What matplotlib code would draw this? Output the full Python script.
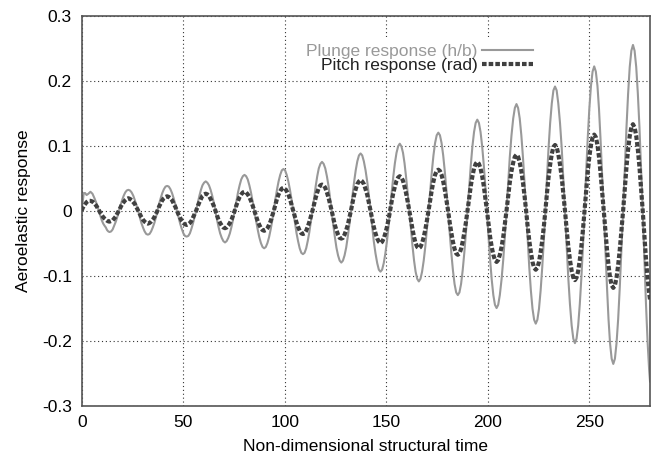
import matplotlib
matplotlib.use('Agg')
import matplotlib.pyplot as plt

plt.rcParams['font.family'] = ['Liberation Sans', 'DejaVu Sans']
plt.rcParams['axes.unicode_minus'] = False

# sample times (non-dimensional structural time)
time = [
    0.0, 0.5, 1.0, 1.7, 2.4, 3.3, 4.3, 5.3, 6.3, 7.3, 8.2, 9.1, 9.9, 10.6, 11.2, 11.9, 12.5, 13.1, 13.7,
    14.5, 15.25, 16.0, 16.8, 17.6, 18.35, 19.1, 19.9, 20.7, 21.45, 22.2, 23.0,
    23.8, 24.6, 25.4, 26.2, 27.0, 27.8, 28.6, 29.4, 30.2, 31.0, 31.8, 32.6,
    33.4, 34.2, 35.0, 35.8, 36.6, 37.35, 38.1, 38.9, 39.7, 40.5, 41.3, 42.1,
    42.9, 43.7, 44.5, 45.3, 46.1, 46.9, 47.7, 48.5, 49.3, 50.1, 50.9, 51.7,
    52.5, 53.3, 54.05, 54.8, 55.6, 56.4, 57.2, 58.0, 58.75, 59.5, 60.3, 61.1,
    61.9, 62.7, 63.5, 64.3, 65.1, 65.85, 66.6, 67.4, 68.2, 69.0, 69.8, 70.6,
    71.4, 72.2, 73.0, 73.8, 74.6, 75.4, 76.2, 77.0, 77.8, 78.6, 79.4, 80.2,
    81.0, 81.8, 82.6, 83.4, 84.2, 85.05, 85.9, 86.7, 87.5, 88.3, 89.1, 89.9,
    90.7, 91.5, 92.3, 93.1, 93.9, 94.65, 95.4, 96.2, 97.0, 97.8, 98.6, 99.4,
    100.2, 101.0, 101.8, 102.6, 103.4, 104.2, 105.0, 105.8, 106.6, 107.4, 108.2, 109.0,
    109.8, 110.6, 111.35, 112.1, 112.9, 113.7, 114.5, 115.3, 116.05, 116.8, 117.6, 118.4,
    119.2, 120.0, 120.8, 121.6, 122.4, 123.15, 123.9, 124.7, 125.5, 126.3, 127.1, 127.9,
    128.7, 129.5, 130.3, 131.1, 131.9, 132.65, 133.4, 134.2, 135.0, 135.8, 136.6, 137.4,
    138.2, 139.0, 139.85, 140.7, 141.5, 142.3, 143.1, 143.9, 144.75, 145.6, 146.4, 147.2,
    148.0, 148.8, 149.6, 150.4, 151.2, 151.95, 152.7, 153.5, 154.3, 155.1, 155.9, 156.7,
    157.5, 158.3, 159.05, 159.8, 160.6, 161.4, 162.2, 163.0, 163.75, 164.5, 165.3, 166.1,
    166.9, 167.7, 168.5, 169.3, 170.1, 170.9, 171.7, 172.5, 173.3, 174.1, 174.9, 175.7,
    176.5, 177.3, 178.1, 178.9, 179.7, 180.5, 181.3, 182.1, 182.9, 183.7, 184.5, 185.3,
    186.1, 186.9, 187.7, 188.5, 189.3, 190.1, 190.9, 191.7, 192.5, 193.3, 194.1, 194.9,
    195.7, 196.5, 197.3, 198.1, 198.9, 199.65, 200.4, 201.2, 202.0, 202.8, 203.6, 204.4,
    205.2, 206.0, 206.85, 207.7, 208.5, 209.3, 210.1, 210.9, 211.75, 212.6, 213.4, 214.2,
    215.0, 215.8, 216.6, 217.4, 218.2, 218.95, 219.7, 220.5, 221.3, 222.1, 222.9, 223.7,
    224.5, 225.3, 226.1, 226.9, 227.7, 228.45, 229.2, 230.0, 230.8, 231.6, 232.4, 233.2,
    234.0, 234.8, 235.65, 236.5, 237.3, 238.1, 238.9, 239.7, 240.55, 241.4, 242.2, 243.0,
    243.8, 244.6, 245.4, 246.2, 247.0, 247.75, 248.5, 249.3, 250.1, 250.9, 251.7, 252.5,
    253.3, 254.1, 254.85, 255.6, 256.4, 257.2, 258.0, 258.8, 259.55, 260.3, 261.1, 261.9,
    262.7, 263.5, 264.3, 265.1, 265.9, 266.75, 267.6, 268.4, 269.2, 270.0, 270.8, 271.6,
    272.4, 273.2, 274.0, 274.8, 275.6, 276.4, 277.2, 278.0, 278.8, 279.6, 280.0,
]

# plunge response (h/b)
plunge = [
    0.000, 0.014, 0.027, 0.027, 0.024, 0.026, 0.029, 0.026, 0.019, 0.011, 0.002, -0.007, -0.015, -0.020, -0.023, -0.026, -0.030, -0.032, -0.033,
    -0.032, -0.029, -0.023, -0.017, -0.009, 0.000, 0.008, 0.016, 0.023, 0.028, 0.031, 0.032,
    0.031, 0.028, 0.023, 0.016, 0.008, 0.000, -0.010, -0.019, -0.026, -0.032, -0.036, -0.037,
    -0.036, -0.032, -0.026, -0.019, -0.010, 0.000, 0.010, 0.019, 0.027, 0.033, 0.037, 0.038,
    0.037, 0.033, 0.027, 0.019, 0.010, 0.000, -0.010, -0.020, -0.028, -0.035, -0.039, -0.040,
    -0.039, -0.035, -0.028, -0.020, -0.010, 0.000, 0.012, 0.023, 0.032, 0.039, 0.043, 0.045,
    0.043, 0.039, 0.032, 0.023, 0.012, 0.000, -0.013, -0.025, -0.035, -0.042, -0.047, -0.049,
    -0.047, -0.042, -0.035, -0.025, -0.013, 0.000, 0.014, 0.028, 0.039, 0.048, 0.053, 0.055,
    0.053, 0.048, 0.039, 0.028, 0.014, 0.000, -0.015, -0.029, -0.041, -0.050, -0.056, -0.058,
    -0.056, -0.050, -0.041, -0.029, -0.015, 0.000, 0.017, 0.032, 0.045, 0.055, 0.062, 0.064,
    0.062, 0.055, 0.045, 0.032, 0.017, 0.000, -0.017, -0.034, -0.047, -0.058, -0.065, -0.067,
    -0.065, -0.058, -0.047, -0.034, -0.017, 0.000, 0.019, 0.038, 0.053, 0.065, 0.072, 0.075,
    0.072, 0.065, 0.053, 0.038, 0.019, 0.000, -0.021, -0.040, -0.057, -0.069, -0.077, -0.080,
    -0.077, -0.069, -0.057, -0.040, -0.021, 0.000, 0.023, 0.044, 0.062, 0.076, 0.085, 0.088,
    0.085, 0.076, 0.062, 0.044, 0.023, 0.000, -0.024, -0.047, -0.066, -0.081, -0.091, -0.094,
    -0.091, -0.081, -0.066, -0.047, -0.024, 0.000, 0.027, 0.052, 0.073, 0.089, 0.099, 0.103,
    0.099, 0.089, 0.073, 0.052, 0.027, 0.000, -0.028, -0.055, -0.077, -0.094, -0.105, -0.109,
    -0.105, -0.094, -0.077, -0.055, -0.028, 0.000, 0.031, 0.060, 0.085, 0.104, 0.116, 0.120,
    0.116, 0.104, 0.085, 0.060, 0.031, 0.000, -0.034, -0.065, -0.092, -0.113, -0.126, -0.130,
    -0.126, -0.113, -0.092, -0.065, -0.034, 0.000, 0.036, 0.070, 0.099, 0.121, 0.135, 0.140,
    0.135, 0.121, 0.099, 0.070, 0.036, 0.000, -0.039, -0.075, -0.106, -0.130, -0.145, -0.150,
    -0.145, -0.130, -0.106, -0.075, -0.039, 0.000, 0.042, 0.082, 0.116, 0.142, 0.158, 0.164,
    0.158, 0.142, 0.116, 0.082, 0.042, 0.000, -0.045, -0.087, -0.123, -0.151, -0.168, -0.174,
    -0.168, -0.151, -0.123, -0.087, -0.045, 0.000, 0.049, 0.096, 0.135, 0.165, 0.185, 0.191,
    0.185, 0.165, 0.135, 0.096, 0.049, 0.000, -0.053, -0.102, -0.144, -0.177, -0.197, -0.204,
    -0.197, -0.177, -0.144, -0.102, -0.053, 0.000, 0.057, 0.111, 0.157, 0.192, 0.214, 0.222,
    0.214, 0.192, 0.157, 0.111, 0.057, 0.000, -0.061, -0.118, -0.167, -0.204, -0.228, -0.236,
    -0.228, -0.204, -0.167, -0.118, -0.061, 0.000, 0.066, 0.128, 0.180, 0.221, 0.246, 0.255,
    0.246, 0.221, 0.180, 0.128, 0.066, 0.000, -0.074, -0.143, -0.202, -0.247, -0.263,
]

# pitch response (rad)
pitch = [
    0.000, 0.004, 0.007, 0.010, 0.013, 0.015, 0.015, 0.014, 0.011, 0.007, 0.002, -0.003, -0.007, -0.010, -0.012, -0.014, -0.0155, -0.0165, -0.017,
    -0.016, -0.015, -0.012, -0.009, -0.004, 0.000, 0.005, 0.010, 0.013, 0.016, 0.018, 0.019,
    0.018, 0.016, 0.013, 0.010, 0.005, 0.000, -0.005, -0.010, -0.014, -0.017, -0.019, -0.020,
    -0.019, -0.017, -0.014, -0.010, -0.005, 0.000, 0.006, 0.011, 0.016, 0.019, 0.021, 0.022,
    0.021, 0.019, 0.016, 0.011, 0.006, 0.000, -0.006, -0.011, -0.016, -0.019, -0.021, -0.022,
    -0.021, -0.019, -0.016, -0.011, -0.006, 0.000, 0.007, 0.013, 0.018, 0.023, 0.025, 0.026,
    0.025, 0.023, 0.018, 0.013, 0.007, 0.000, -0.007, -0.014, -0.019, -0.023, -0.026, -0.027,
    -0.026, -0.023, -0.019, -0.014, -0.007, 0.000, 0.008, 0.015, 0.021, 0.025, 0.028, 0.029,
    0.028, 0.025, 0.021, 0.015, 0.008, 0.000, -0.008, -0.016, -0.022, -0.027, -0.030, -0.031,
    -0.030, -0.027, -0.022, -0.016, -0.008, 0.000, 0.009, 0.018, 0.025, 0.030, 0.034, 0.035,
    0.034, 0.030, 0.025, 0.018, 0.009, 0.000, -0.009, -0.018, -0.025, -0.031, -0.035, -0.036,
    -0.035, -0.031, -0.025, -0.018, -0.009, 0.000, 0.010, 0.020, 0.028, 0.035, 0.039, 0.040,
    0.039, 0.035, 0.028, 0.020, 0.010, 0.000, -0.011, -0.022, -0.030, -0.037, -0.042, -0.043,
    -0.042, -0.037, -0.030, -0.022, -0.011, 0.000, 0.012, 0.024, 0.033, 0.041, 0.045, 0.047,
    0.045, 0.041, 0.033, 0.024, 0.012, 0.000, -0.013, -0.025, -0.035, -0.043, -0.048, -0.050,
    -0.048, -0.043, -0.035, -0.025, -0.013, 0.000, 0.014, 0.027, 0.037, 0.046, 0.051, 0.053,
    0.051, 0.046, 0.037, 0.027, 0.014, 0.000, -0.015, -0.029, -0.041, -0.050, -0.056, -0.058,
    -0.056, -0.050, -0.041, -0.029, -0.015, 0.000, 0.016, 0.032, 0.045, 0.055, 0.061, 0.063,
    0.061, 0.055, 0.045, 0.032, 0.016, 0.000, -0.018, -0.034, -0.048, -0.059, -0.066, -0.068,
    -0.066, -0.059, -0.048, -0.034, -0.018, 0.000, 0.019, 0.038, 0.053, 0.065, 0.072, 0.075,
    0.072, 0.065, 0.053, 0.038, 0.019, 0.000, -0.020, -0.040, -0.056, -0.068, -0.076, -0.079,
    -0.076, -0.068, -0.056, -0.040, -0.020, 0.000, 0.022, 0.043, 0.061, 0.074, 0.083, 0.086,
    0.083, 0.074, 0.061, 0.043, 0.022, 0.000, -0.024, -0.046, -0.064, -0.079, -0.088, -0.091,
    -0.088, -0.079, -0.064, -0.046, -0.024, 0.000, 0.026, 0.051, 0.071, 0.087, 0.098, 0.101,
    0.098, 0.087, 0.071, 0.051, 0.026, 0.000, -0.028, -0.054, -0.076, -0.093, -0.103, -0.107,
    -0.103, -0.093, -0.076, -0.054, -0.028, 0.000, 0.030, 0.059, 0.083, 0.101, 0.113, 0.117,
    0.113, 0.101, 0.083, 0.059, 0.030, 0.000, -0.031, -0.060, -0.084, -0.103, -0.115, -0.119,
    -0.115, -0.103, -0.084, -0.060, -0.031, 0.000, 0.034, 0.067, 0.094, 0.115, 0.128, 0.133,
    0.128, 0.115, 0.094, 0.067, 0.034, 0.000, -0.038, -0.074, -0.105, -0.128, -0.137,
]

x_ticks = [0, 50, 100, 150, 200, 250]
y_ticks = [-0.3, -0.2, -0.1, 0, 0.1, 0.2, 0.3]
y_ticklabels = ['-0.3', '-0.2', '-0.1', '0', '0.1', '0.2', '0.3']

plunge_color = '#999999'
pitch_color = '#404040'

fig = plt.figure(figsize=(6.51, 4.54), dpi=100)
ax = fig.add_axes([0.1255, 0.1068, 0.873, 0.8586])

ax.plot(time, plunge, color=plunge_color, lw=1.5, label='Plunge response (h/b)', zorder=2)
ax.plot(time, pitch, color=pitch_color, lw=3.0, dashes=(1.1, 0.5), dash_capstyle='butt',
        label='Pitch response (rad)', zorder=3)

ax.set_xlim(0, 280)
ax.set_ylim(-0.3, 0.3)
ax.set_xticks(x_ticks)
ax.set_yticks(y_ticks)
ax.set_yticklabels(y_ticklabels)
ax.tick_params(length=0, labelsize=12.5, colors='black')
ax.tick_params(axis='x', pad=7)
ax.tick_params(axis='y', pad=7)

# gnuplot style dotted grid
ax.grid(True, color='#333333', lw=0.8, linestyle=(0, (1, 2.5)))
ax.set_axisbelow(True)
for s in ax.spines.values():
    s.set_color('#555555')
    s.set_linewidth(1.2)

ax.set_xlabel('Non-dimensional structural time', fontsize=12.5, labelpad=6)
ax.set_ylabel('Aeroelastic response', fontsize=12.5, labelpad=8)

# key: text first, sample line on the right
leg = ax.legend(loc='upper right', bbox_to_anchor=(0.806, 0.946), borderaxespad=0,
                markerfirst=False, frameon=True, fancybox=False, fontsize=12.5,
                handlelength=2.9, handletextpad=0.3, labelspacing=-0.05, borderpad=0.4)
leg.get_frame().set_facecolor('white')
leg.get_frame().set_edgecolor('none')
leg.get_frame().set_alpha(1.0)
leg.get_texts()[0].set_color(plunge_color)
leg.get_texts()[1].set_color('#222222')

fig.savefig('out.png', dpi=100)
